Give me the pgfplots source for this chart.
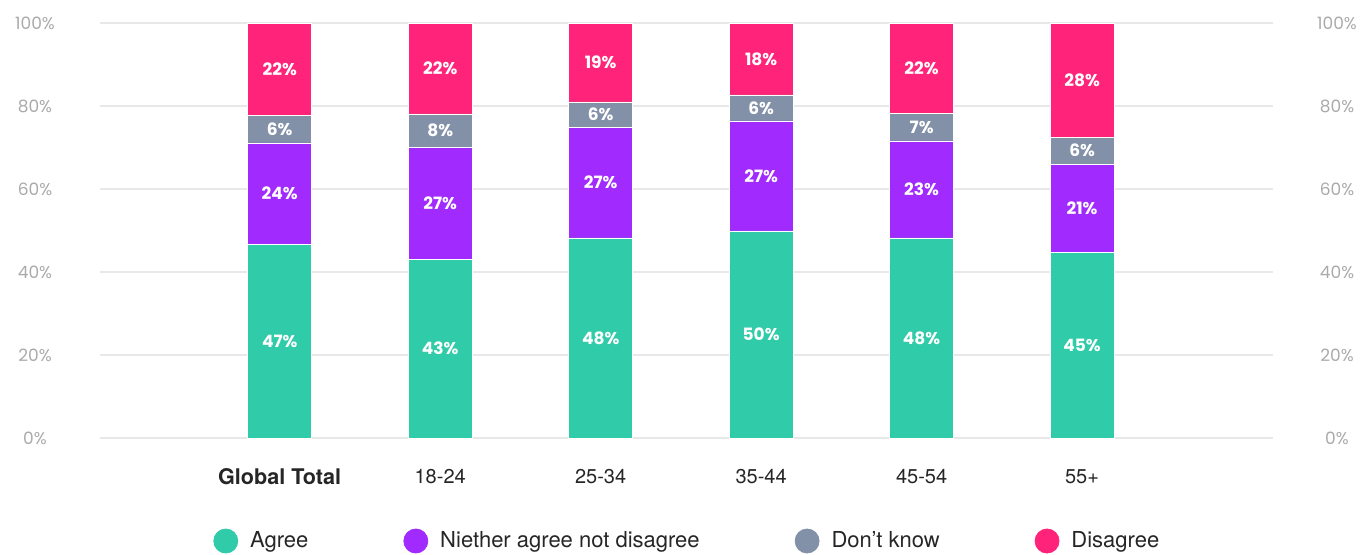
\documentclass[border=0pt]{standalone}
\usepackage{pgfplots}
\pgfplotsset{compat=1.18}
\usepackage{fontspec}
\setmainfont{TeX Gyre Heros}
\newfontfamily\tickfont{Poppins}
\newfontfamily\lblfont{Poppins}
\definecolor{cAgree}{HTML}{30CBA8}
\definecolor{cNeither}{HTML}{A12AFF}
\definecolor{cDK}{HTML}{8290A8}
\definecolor{cDis}{HTML}{FF2479}
\definecolor{gridc}{HTML}{E8E8E8}
\definecolor{tickc}{HTML}{AAAAAA}
\begin{document}
\begin{tikzpicture}
\pgfplotsset{
  base/.style={
    at={(50pt,58pt)}, anchor=south west,
    scale only axis, width=586.5pt, height=207.5pt,
    xmin=-1.12, xmax=6.19, ymin=0, ymax=100,
    axis line style={draw=none}, major tick length=0pt,
    /pgf/number format/assume math mode=true,
  }
}
\begin{axis}[base,
  ybar stacked, bar width=32pt,
  xtick={0,1,2,3,4,5},
  xticklabels={{\fontsize{10.8}{12}\selectfont\textbf{Global Total}},18-24,25-34,35-44,45-54,55+},
  xticklabel style={font=\fontsize{10}{12}\selectfont, text=black!85, anchor=center, yshift=-19.5pt},
  ytick={0,20,40,60,80,100},
  yticklabel={\pgfmathprintnumber{\tick}\%},
  yticklabel style={font=\tickfont\fontsize{8.5}{10}\selectfont, text=tickc, anchor=center, xshift=-32.5pt},
  ymajorgrids, grid style={gridc, line width=0.6pt},
]
\addplot[fill=cAgree, draw=white, line width=0.3pt] coordinates {(0,46.7) (1,43.1) (2,48.2) (3,49.9) (4,48.2) (5,44.8)};
\addplot[fill=cNeither, draw=white, line width=0.3pt] coordinates {(0,24.4) (1,27.0) (2,26.7) (3,26.5) (4,23.4) (5,21.2)};
\addplot[fill=cDK, draw=white, line width=0.3pt] coordinates {(0,6.7) (1,8.0) (2,6.1) (3,6.3) (4,6.7) (5,6.5)};
\addplot[fill=cDis, draw=white, line width=0.3pt] coordinates {(0,22.2) (1,21.9) (2,19.0) (3,17.3) (4,21.7) (5,27.5)};
\end{axis}
\begin{axis}[base,
  hide x axis,
  axis y line*=right,
  ytick={0,20,40,60,80,100},
  yticklabel={\pgfmathprintnumber{\tick}\%},
  yticklabel style={font=\tickfont\fontsize{8.5}{10}\selectfont, text=tickc, anchor=center, xshift=32pt},
  nodes near coords, point meta=explicit symbolic,
  every node near coord/.append style={anchor=center, text=white, font=\lblfont\bfseries\fontsize{8.5}{10}\selectfont},
  legend columns=4,
  legend style={draw=none, fill=none, at={(axis description cs:0.0912,-0.2482)}, anchor=west,
    font=\fontsize{11}{13}\selectfont, text=black!85,
    nodes={inner sep=0pt},
    /tikz/every odd column/.append style={column sep=6pt},
    /tikz/every even column/.append style={column sep=47.5pt}},
]
\addlegendimage{legend image code/.code={\fill[cAgree] (6pt,0pt) circle (6pt);}}
\addlegendentry{Agree}
\addlegendimage{legend image code/.code={\fill[cNeither] (6pt,0pt) circle (6pt);}}
\addlegendentry{Niether agree not disagree}
\addlegendimage{legend image code/.code={\fill[cDK] (6pt,0pt) circle (6pt);}}
\addlegendentry{Don’t know}
\addlegendimage{legend image code/.code={\fill[cDis] (6pt,0pt) circle (6pt);}}
\addlegendentry{Disagree}
\addplot[only marks, mark=none, forget plot] table[meta=l] {
x y l
0 23.35 47\%
1 21.55 43\%
2 24.1 48\%
3 24.95 50\%
4 24.1 48\%
5 22.4 45\%
0 58.9 24\%
1 56.6 27\%
2 61.55 27\%
3 63.15 27\%
4 59.9 23\%
5 55.4 21\%
0 74.45 6\%
1 74.1 8\%
2 77.95 6\%
3 79.55 6\%
4 74.95 7\%
5 69.25 6\%
0 88.9 22\%
1 89.05 22\%
2 90.5 19\%
3 91.35 18\%
4 89.15 22\%
5 86.25 28\%
};
\end{axis}
\pgfresetboundingbox
\path[use as bounding box] (0,0) rectangle (681.5pt,277pt);
\end{tikzpicture}
\end{document}
